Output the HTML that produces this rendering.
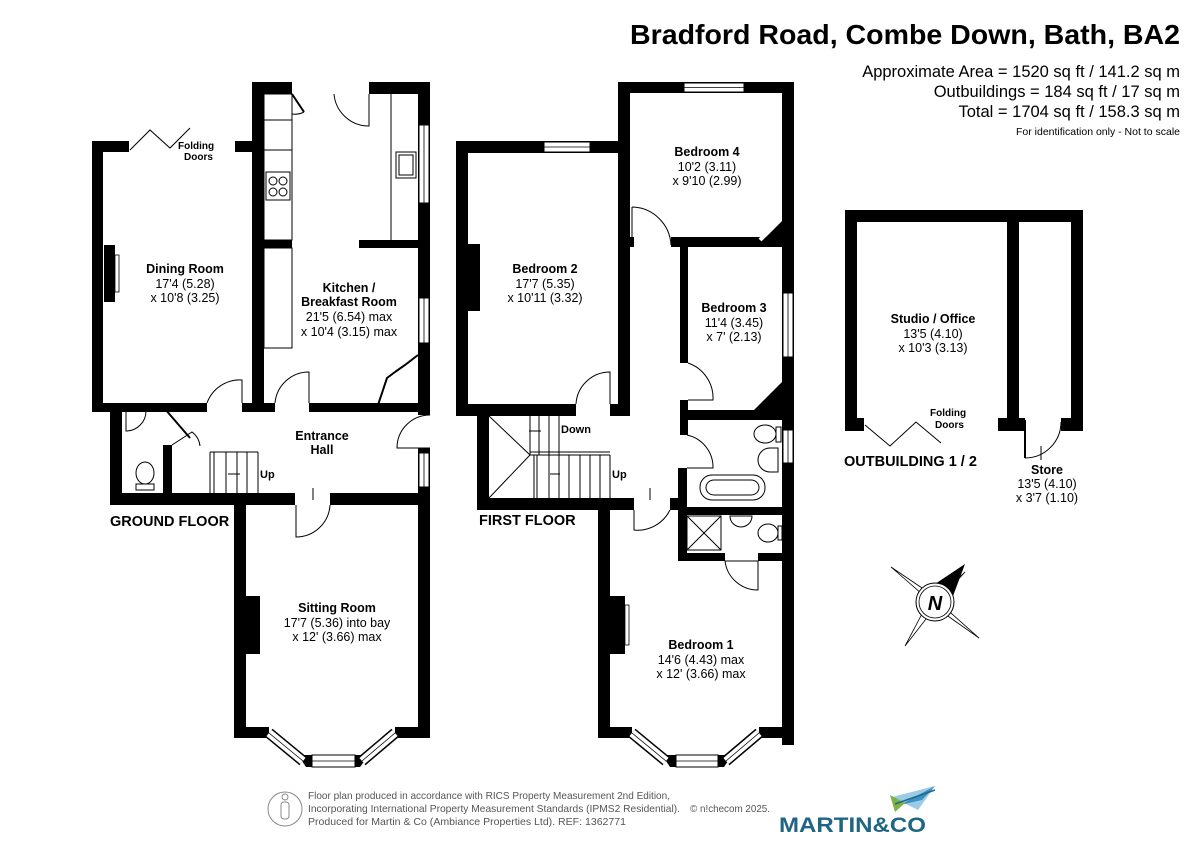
<!DOCTYPE html>
<html><head><meta charset="utf-8"><style>
html,body{margin:0;padding:0;background:#fff;}
svg{display:block;font-family:"Liberation Sans",Arial,sans-serif;}
.n{font-weight:bold;font-size:12.5px;text-anchor:middle;}
.d{font-size:12.5px;text-anchor:middle;}
.s{font-weight:bold;font-size:10px;text-anchor:middle;}
.f{font-weight:bold;font-size:14.5px;}
.th{fill:none;stroke:#000;stroke-width:1;}
</style></head><body>
<svg width="1200" height="849" viewBox="0 0 1200 849" xmlns="http://www.w3.org/2000/svg">
<rect width="1200" height="849" fill="#fff"/>
<!-- header -->
<text x="1180" y="44" font-size="28" font-weight="bold" text-anchor="end" textLength="550" lengthAdjust="spacingAndGlyphs">Bradford Road, Combe Down, Bath, BA2</text>
<text x="1180" y="77" font-size="16.5" text-anchor="end">Approximate Area = 1520 sq ft / 141.2 sq m</text>
<text x="1180" y="97" font-size="16.5" text-anchor="end">Outbuildings = 184 sq ft / 17 sq m</text>
<text x="1180" y="117" font-size="16.5" text-anchor="end">Total = 1704 sq ft / 158.3 sq m</text>
<text x="1180" y="135" font-size="10.5" text-anchor="end">For identification only - Not to scale</text>

<!-- ================= GROUND FLOOR ================= -->
<g fill="#000">
<rect x="92" y="141" width="11" height="271"/>
<rect x="92" y="141" width="37" height="11"/>
<rect x="235" y="141" width="29" height="11"/>
<rect x="252" y="82" width="12" height="330"/>
<rect x="252" y="82" width="40" height="12"/>
<rect x="369" y="82" width="61" height="12"/>
<rect x="418" y="82" width="12" height="333"/>
<rect x="418" y="448" width="12" height="57"/>
<rect x="264" y="240" width="28" height="8"/>
<rect x="359" y="240" width="59" height="8"/>
<rect x="264" y="403" width="11" height="9"/>
<rect x="309" y="403" width="109" height="9"/>
<rect x="92" y="403" width="115" height="9"/>
<rect x="242" y="403" width="22" height="9"/>
<rect x="110" y="403" width="12" height="102"/>
<rect x="110" y="493" width="185" height="12"/>
<rect x="330" y="493" width="100" height="12"/>
<rect x="163" y="445" width="9" height="48"/>
<rect x="104" y="245" width="11" height="57"/>
<rect x="234" y="493" width="12" height="245"/>
<rect x="246" y="596" width="14" height="58"/>
<rect x="418" y="493" width="12" height="245"/>
<rect x="234" y="727" width="35" height="11"/>
<rect x="395" y="727" width="35" height="11"/>
<polygon points="298,755 312,755 312,767 306,767"/>
<polygon points="355,755 369,755 360,767 355,767"/>
</g>
<g>
<rect x="419" y="125" width="10" height="78" fill="#fff" stroke="#000" stroke-width="1"/>
<line x1="424" y1="125" x2="424" y2="203" stroke="#000" stroke-width="0.8"/>
<rect x="419" y="298" width="10" height="45" fill="#fff" stroke="#000" stroke-width="1"/>
<line x1="424" y1="298" x2="424" y2="343" stroke="#000" stroke-width="0.8"/>
<rect x="419" y="453" width="10" height="34" fill="#fff" stroke="#000" stroke-width="1"/>
<line x1="424" y1="453" x2="424" y2="487" stroke="#000" stroke-width="0.8"/>
<rect x="115" y="255" width="4" height="37" fill="#fff" stroke="#000" stroke-width="0.8"/>
<line x1="269" y1="733" x2="303" y2="761" stroke="#000" stroke-width="11"/>
<line x1="269" y1="733" x2="303" y2="761" stroke="#fff" stroke-width="8"/>
<line x1="269" y1="733" x2="303" y2="761" stroke="#000" stroke-width="0.8"/>
<line x1="395" y1="733" x2="362" y2="761" stroke="#000" stroke-width="11"/>
<line x1="395" y1="733" x2="362" y2="761" stroke="#fff" stroke-width="8"/>
<line x1="395" y1="733" x2="362" y2="761" stroke="#000" stroke-width="0.8"/>
<rect x="312" y="755" width="43" height="12" fill="#fff" stroke="#000" stroke-width="1"/>
<line x1="312" y1="761" x2="355" y2="761" stroke="#000" stroke-width="0.8"/>
</g>
<polyline points="130,150 150,130 170,148 190,128" class="th"/>
<g class="th">
<path d="M334,94 A35,35 0 0 0 369,126 L369,94"/>
<line x1="292" y1="94" x2="304" y2="112" stroke-width="2"/>
<path d="M304,112 A20,20 0 0 1 292,114"/>
<path d="M207,403 A35,35 0 0 1 242,380 L242,403"/>
<path d="M275,403 A34,34 0 0 1 309,372 L309,403"/>
<path d="M430,415 A33,33 0 0 0 397,448 L430,448"/>
<path d="M296,505 L296,537 A34,34 0 0 0 330,505"/>
<line x1="313" y1="488" x2="313" y2="500"/>
<path d="M165,409 L190,438" stroke-width="2"/>
<path d="M172,445 L192,432 A20,20 0 0 1 200,446"/>
</g>
<g class="th">
<rect x="264" y="94" width="28" height="146"/>
<line x1="264" y1="120" x2="292" y2="120"/>
<line x1="264" y1="150" x2="292" y2="150"/>
<rect x="266" y="172" width="24" height="28"/>
<circle cx="273" cy="181" r="4"/><circle cx="283" cy="181" r="4"/>
<circle cx="273" cy="192" r="4"/><circle cx="283" cy="192" r="4"/>
<rect x="264" y="248" width="28" height="100"/>
<line x1="391" y1="94" x2="391" y2="240"/>
<rect x="396" y="152" width="20" height="26"/>
<rect x="399" y="155" width="14" height="20"/>
<path d="M378,405 L387,378 L395,372" stroke-width="2"/>
<path d="M395,372 L405,365 L418,355" stroke-width="2"/>
<line x1="210" y1="452" x2="258" y2="452"/>
<line x1="210" y1="452" x2="210" y2="493"/>
<line x1="214" y1="452" x2="214" y2="493"/>
<line x1="226" y1="452" x2="226" y2="493"/>
<line x1="237" y1="452" x2="237" y2="493"/>
<line x1="247" y1="452" x2="247" y2="493"/>
<line x1="258" y1="452" x2="258" y2="493"/>
<line x1="228" y1="474" x2="240" y2="474"/>
<path d="M126,411 L146,411 A20,20 0 0 1 126,431 Z"/>
<ellipse cx="145" cy="473" rx="9" ry="11"/>
<rect x="136" y="484" width="18" height="6"/>
</g>
<text x="260" y="478" font-weight="bold" font-size="11">Up</text>
<text x="178" y="149" class="s" style="text-anchor:start">Folding</text>
<text x="184" y="160" class="s" style="text-anchor:start">Doors</text>
<text x="185" y="273" class="n">Dining Room</text>
<text x="185" y="288" class="d">17'4 (5.28)</text>
<text x="185" y="302" class="d">x 10'8 (3.25)</text>
<text x="349" y="292" class="n">Kitchen /</text>
<text x="349" y="306" class="n">Breakfast Room</text>
<text x="349" y="321" class="d">21'5 (6.54) max</text>
<text x="349" y="336" class="d">x 10'4 (3.15) max</text>
<text x="322" y="440" class="n">Entrance</text>
<text x="322" y="454" class="n">Hall</text>
<text x="110" y="526" class="f">GROUND FLOOR</text>
<text x="337" y="612" class="n">Sitting Room</text>
<text x="337" y="627" class="d">17'7 (5.36) into bay</text>
<text x="337" y="641" class="d">x 12' (3.66) max</text>

<!-- ================= FIRST FLOOR ================= -->
<g fill="#000">
<rect x="456" y="141" width="12" height="275"/>
<rect x="456" y="141" width="174" height="12"/>
<rect x="468" y="244" width="12" height="67"/>
<rect x="618" y="82" width="12" height="334"/>
<rect x="618" y="82" width="176" height="11"/>
<rect x="671" y="237" width="111" height="10"/>
<rect x="630" y="237" width="4" height="10"/>
<polygon points="756,247 794,209 794,247"/>
<rect x="782" y="82" width="12" height="663"/>
<rect x="680" y="247" width="8" height="116"/>
<rect x="680" y="400" width="8" height="35"/>
<rect x="678" y="468" width="9" height="92"/>
<rect x="687" y="410" width="95" height="10"/>
<polygon points="752,412 782,382 782,412"/>
<rect x="687" y="507" width="95" height="8"/>
<rect x="678" y="553" width="47" height="8"/>
<rect x="758" y="553" width="24" height="8"/>
<rect x="477" y="410" width="12" height="100"/>
<rect x="477" y="498" width="157" height="12"/>
<rect x="670" y="498" width="17" height="12"/>
<rect x="456" y="404" width="120" height="12"/>
<rect x="610" y="404" width="20" height="12"/>
<rect x="598" y="498" width="12" height="240"/>
<rect x="610" y="596" width="15" height="58"/>
<rect x="598" y="727" width="34" height="11"/>
<rect x="759" y="727" width="35" height="11"/>
<polygon points="662,755 676,755 676,767 670,767"/>
<polygon points="718,755 732,755 724,767 718,767"/>
</g>
<g>
<rect x="544" y="142" width="46" height="10" fill="#fff" stroke="#000"/>
<line x1="544" y1="147" x2="590" y2="147" stroke="#000" stroke-width="0.8"/>
<rect x="684" y="83" width="60" height="9" fill="#fff" stroke="#000"/>
<line x1="684" y1="87.5" x2="744" y2="87.5" stroke="#000" stroke-width="0.8"/>
<rect x="783" y="293" width="10" height="64" fill="#fff" stroke="#000"/>
<line x1="788" y1="293" x2="788" y2="357" stroke="#000" stroke-width="0.8"/>
<rect x="783" y="430" width="10" height="33" fill="#fff" stroke="#000"/>
<line x1="788" y1="430" x2="788" y2="463" stroke="#000" stroke-width="0.8"/>
<rect x="625" y="605" width="4" height="40" fill="#fff" stroke="#000" stroke-width="0.8"/>
<line x1="760" y1="240" x2="778" y2="222" stroke="#fff" stroke-width="4"/>
<line x1="632" y1="733" x2="666" y2="761" stroke="#000" stroke-width="11"/>
<line x1="632" y1="733" x2="666" y2="761" stroke="#fff" stroke-width="8"/>
<line x1="632" y1="733" x2="666" y2="761" stroke="#000" stroke-width="0.8"/>
<line x1="759" y1="733" x2="726" y2="761" stroke="#000" stroke-width="11"/>
<line x1="759" y1="733" x2="726" y2="761" stroke="#fff" stroke-width="8"/>
<line x1="759" y1="733" x2="726" y2="761" stroke="#000" stroke-width="0.8"/>
<rect x="676" y="755" width="42" height="12" fill="#fff" stroke="#000"/>
<line x1="676" y1="761" x2="718" y2="761" stroke="#000" stroke-width="0.8"/>
</g>
<g class="th">
<path d="M632,207 L632,237 M632,207 A40,40 0 0 1 671,245"/>
<path d="M576,404 A34,34 0 0 1 610,372 L610,404"/>
<path d="M688,363 A37,37 0 0 1 713,400 L688,400"/>
<path d="M687,435 A33,33 0 0 1 713,468 L687,468"/>
<path d="M634,510 L634,530 A36,36 0 0 0 670,510"/>
<line x1="650" y1="488" x2="650" y2="500"/>
<path d="M725,561 L758,561 L758,590 A33,33 0 0 1 725,561"/>
<line x1="489" y1="416" x2="530" y2="455"/>
<line x1="489" y1="498" x2="530" y2="455"/>
<line x1="530" y1="416" x2="530" y2="455"/>
<line x1="530" y1="455" x2="610" y2="455"/>
<line x1="539" y1="416" x2="539" y2="455"/><line x1="549" y1="416" x2="549" y2="455"/><line x1="559" y1="416" x2="559" y2="455"/>
<line x1="530" y1="452" x2="610" y2="452"/>
<line x1="534" y1="455" x2="534" y2="498"/><line x1="537" y1="455" x2="537" y2="498"/>
<line x1="549" y1="455" x2="549" y2="498"/><line x1="559" y1="455" x2="559" y2="498"/>
<line x1="569" y1="455" x2="569" y2="498"/><line x1="580" y1="455" x2="580" y2="498"/>
<line x1="590" y1="455" x2="590" y2="498"/><line x1="600" y1="455" x2="600" y2="498"/>
<line x1="610" y1="455" x2="610" y2="498"/>
<line x1="529" y1="431" x2="541" y2="431"/>
<line x1="550" y1="474" x2="560" y2="474"/>
<ellipse cx="765" cy="434" rx="11" ry="9"/>
<rect x="776" y="427" width="5" height="15"/>
<path d="M778,448 L770,448 A12,12 0 0 0 770,472 L778,472 Z"/>
<rect x="700" y="475" width="65" height="25" rx="12"/>
<rect x="706" y="480" width="53" height="15" rx="8"/>
<rect x="687" y="516" width="34" height="34"/>
<line x1="687" y1="516" x2="721" y2="550"/><line x1="721" y1="516" x2="687" y2="550"/>
<path d="M730,516 L752,516 A11,11 0 0 1 730,516 Z"/>
<ellipse cx="768" cy="533" rx="10" ry="9"/>
<rect x="778" y="526" width="4" height="14"/>
</g>
<text x="561" y="433" font-weight="bold" font-size="11">Down</text>
<text x="612" y="478" font-weight="bold" font-size="11">Up</text>
<text x="545" y="273" class="n">Bedroom 2</text>
<text x="545" y="288" class="d">17'7 (5.35)</text>
<text x="545" y="302" class="d">x 10'11 (3.32)</text>
<text x="707" y="156" class="n">Bedroom 4</text>
<text x="707" y="171" class="d">10'2 (3.11)</text>
<text x="707" y="185" class="d">x 9'10 (2.99)</text>
<text x="734" y="312" class="n">Bedroom 3</text>
<text x="734" y="327" class="d">11'4 (3.45)</text>
<text x="734" y="341" class="d">x 7' (2.13)</text>
<text x="479" y="525" class="f">FIRST FLOOR</text>
<text x="701" y="649" class="n">Bedroom 1</text>
<text x="701" y="664" class="d">14'6 (4.43) max</text>
<text x="701" y="678" class="d">x 12' (3.66) max</text>

<!-- ================= OUTBUILDING ================= -->
<g fill="#000">
<rect x="845" y="210" width="238" height="12"/>
<rect x="845" y="210" width="12" height="221"/>
<rect x="1071" y="210" width="12" height="221"/>
<rect x="1007" y="210" width="12" height="221"/>
<rect x="845" y="418" width="19" height="13"/>
<rect x="998" y="418" width="27" height="13"/>
<rect x="1061" y="418" width="22" height="13"/>
</g>
<g class="th">
<polyline points="865,425 890,446 916,422 941,443"/>
<line x1="1025" y1="420" x2="1025" y2="458" stroke-width="2"/>
<path d="M1025,458 A36,36 0 0 0 1061,422"/>
<line x1="1041" y1="446" x2="1041" y2="460"/>
</g>
<text x="933" y="323" class="n">Studio / Office</text>
<text x="933" y="338" class="d">13'5 (4.10)</text>
<text x="933" y="352" class="d">x 10'3 (3.13)</text>
<text x="930" y="416" class="s" style="text-anchor:start">Folding</text>
<text x="935" y="428" class="s" style="text-anchor:start">Doors</text>
<text x="844" y="466" class="f">OUTBUILDING 1 / 2</text>
<text x="1047" y="474" class="n">Store</text>
<text x="1047" y="488" class="d">13'5 (4.10)</text>
<text x="1047" y="502" class="d">x 3'7 (1.10)</text>

<!-- compass -->
<g transform="translate(935,602)">
<polygon points="-44,-35 -10,-12 44,36 10,12" fill="none" stroke="#000" stroke-width="0.8"/>
<polygon points="-30,44 -12,10 30,-30 12,-10" fill="#fff" stroke="#000" stroke-width="0.8"/>
<polygon points="30,-38 -12,-10 12,10" fill="#000"/>
<circle r="19" fill="#fff" stroke="#000" stroke-width="1"/>
<circle r="16" fill="none" stroke="#000" stroke-width="0.8"/>
<text x="0" y="8" font-size="20" font-weight="bold" font-style="italic" text-anchor="middle">N</text>
</g>

<!-- footer -->
<circle cx="285" cy="809" r="17" fill="none" stroke="#888" stroke-width="1"/>
<circle cx="285" cy="797" r="3" fill="none" stroke="#888"/>
<rect x="281" y="802" width="8" height="17" rx="3" fill="none" stroke="#888"/>
<g font-size="10.5" fill="#555">
<text x="308" y="799" textLength="362" lengthAdjust="spacingAndGlyphs">Floor plan produced in accordance with RICS Property Measurement 2nd Edition,</text>
<text x="308" y="812" textLength="372" lengthAdjust="spacingAndGlyphs">Incorporating International Property Measurement Standards (IPMS2 Residential).</text>
<text x="690" y="812" textLength="80" lengthAdjust="spacingAndGlyphs">© n!checom 2025.</text>
<text x="308" y="825" textLength="318" lengthAdjust="spacingAndGlyphs">Produced for Martin &amp; Co (Ambiance Properties Ltd).   REF:  1362771</text>
</g>
<!-- logo -->
<polygon points="892,797 935,786 918,810" fill="#9ccbe6"/>
<polygon points="900,805 935,786 922,800" fill="#3d8fc4"/>
<polygon points="890,795 905,803 895,812" fill="#7cb342"/>
<line x1="895" y1="804" x2="935" y2="790" stroke="#1a6a8a" stroke-width="1.5"/>
<text x="779" y="832" font-size="21" font-weight="bold" fill="#1f6584" textLength="147" lengthAdjust="spacingAndGlyphs">MARTIN&amp;CO</text>
</svg>
</body></html>
